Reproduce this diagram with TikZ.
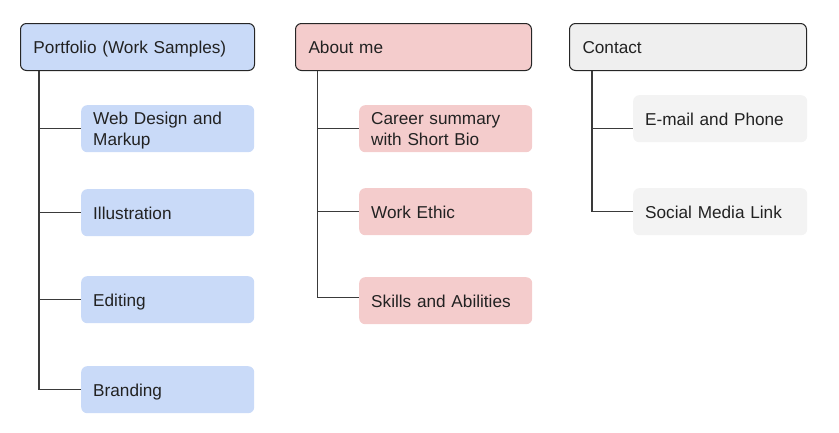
\documentclass[tikz,border=0pt]{standalone}
\usepackage{fontspec}
\setmainfont{Liberation Sans}
\definecolor{hblue}{HTML}{C9DAF8}
\definecolor{hpink}{HTML}{F4CCCC}
\definecolor{hgray}{HTML}{EFEFEF}
\definecolor{cgray}{HTML}{F3F3F3}
\definecolor{txt}{HTML}{222222}
\definecolor{lin}{HTML}{3A3A3A}
\tikzset{
  base/.style={anchor=north west, rounded corners=6pt, align=left, inner ysep=0pt,
    minimum height=47pt, text=txt, font=\fontsize{17.2}{21}\selectfont,
    execute at begin node={\rule{0pt}{17.5pt}},
    execute at end node={\rule[-4pt]{0pt}{0pt}}},
  head/.style={base, draw=black!85, line width=1pt, inner xsep=13pt},
  child/.style={base, draw=none, inner xsep=12pt, text width=149pt},
  conn/.style={draw=lin, line width=1.3pt}
}
\begin{document}
\begin{tikzpicture}[x=1pt,y=-1pt]
\useasboundingbox (0,0) rectangle (839,432);
% headers
\node[head, fill=hblue, text width=208pt] (P) at (20,23) {Portfolio (Work Samples)};
\node[head, fill=hpink, text width=210pt] (A) at (295,23) {About me};
\node[head, fill=hgray, text width=211pt] (C) at (569,23) {Contact};
% portfolio children
\node[child, fill=hblue] (W) at (81,105) {Web Design and\\Markup};
\node[child, fill=hblue] (I) at (81,189) {Illustration};
\node[child, fill=hblue] (E) at (81,276) {Editing};
\node[child, fill=hblue] (B) at (81,366) {Branding};
% about children
\node[child, fill=hpink] (S) at (359,105) {Career summary\\with Short Bio};
\node[child, fill=hpink] (K) at (359,188) {Work Ethic};
\node[child, fill=hpink] (L) at (359,277) {Skills and Abilities};
% contact children
\node[child, fill=cgray, text width=150pt] (M) at (633,95) {E-mail and Phone};
\node[child, fill=cgray, text width=150pt] (N) at (633,188) {Social Media Link};
% connectors
\draw[conn] ([xshift=19pt]P.south west) |- (W.west);
\draw[conn] ([xshift=19pt]P.south west) |- (I.west);
\draw[conn] ([xshift=19pt]P.south west) |- (E.west);
\draw[conn] ([xshift=19pt]P.south west) |- (B.west);
\draw[conn] ([xshift=22.5pt]A.south west) |- (S.west);
\draw[conn] ([xshift=22.5pt]A.south west) |- (K.west);
\draw[conn] ([xshift=22.5pt]A.south west) |- ([yshift=3.5pt]L.west);
\draw[conn] ([xshift=23pt]C.south west) |- ([yshift=-9.5pt]M.west);
\draw[conn] ([xshift=23pt]C.south west) |- (N.west);
\end{tikzpicture}
\end{document}
